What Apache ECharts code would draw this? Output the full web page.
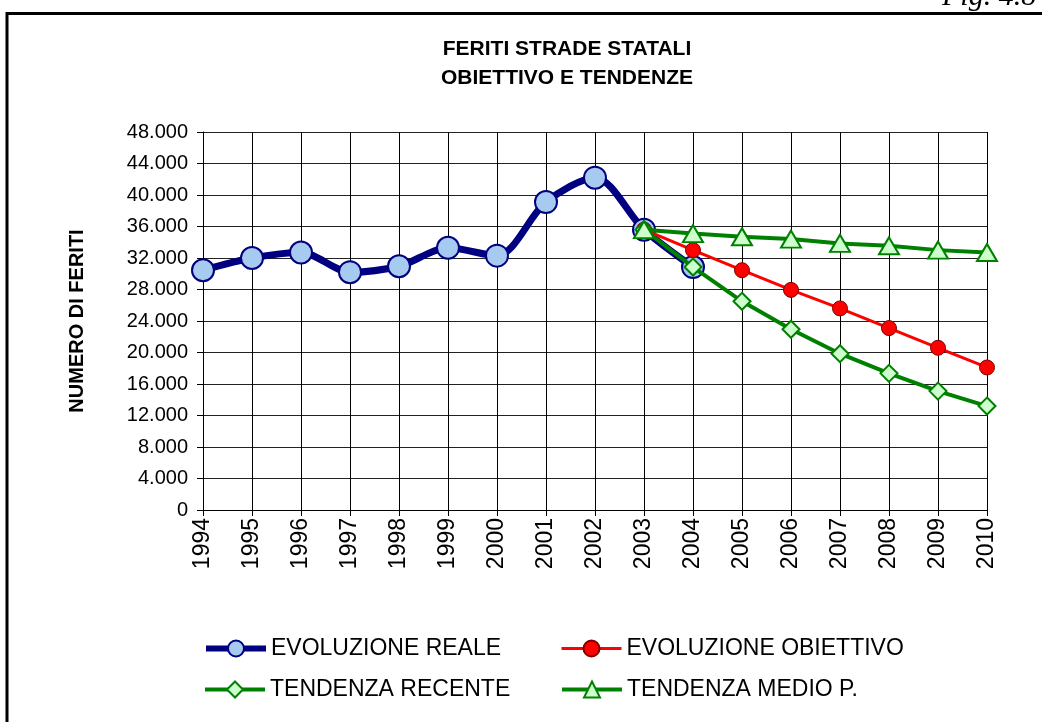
<!DOCTYPE html>
<html><head><meta charset="utf-8">
<script src="https://cdn.jsdelivr.net/npm/echarts@6/dist/echarts.min.js"></script>
<style>html,body{margin:0;padding:0;background:#fff}#c{width:1042px;height:722px}</style>
</head><body><div id="c"></div>
<script>
const years = ['1994','1995','1996','1997','1998','1999','2000','2001','2002','2003','2004','2005','2006','2007','2008','2009','2010'];
const evoluzioneReale = [30450,32000,32700,30200,30950,33300,32300,39100,42200,35600,30850,null,null,null,null,null,null];
const evoluzioneObiettivo = [null,null,null,null,null,null,null,null,null,35600,33000,30450,27950,25600,23100,20600,18100];
const tendenzaRecente = [null,null,null,null,null,null,null,null,null,35600,30850,26500,22950,19850,17350,15100,13200];
const tendenzaMedio = [null,null,null,null,null,null,null,null,null,35600,35100,34700,34400,33850,33550,33000,32700];
const seriesNames = ['EVOLUZIONE REALE','EVOLUZIONE OBIETTIVO','TENDENZA RECENTE','TENDENZA MEDIO P.'];
const yMax = 48000, yStep = 4000;

const FONT = '"Liberation Sans", Arial, sans-serif';
const fmt = v => String(v).replace(/\B(?=(\d{3})+(?!\d))/g, '.');
const chart = echarts.init(document.getElementById('c'), null, {renderer:'canvas'});
const legendBase = {
  itemWidth: 60, itemHeight: 20, itemGap: 5,
  textStyle: {fontFamily: FONT, fontSize: 23, color: '#000'},
  selectedMode: false
};
chart.setOption({
  backgroundColor: '#fff',
  animation: false,
  title: {
    text: 'FERITI STRADE STATALI\nOBIETTIVO E TENDENZE',
    left: 562, top: 30, textAlign: 'center',
    textStyle: {fontFamily: FONT, fontSize: 21, fontWeight: 'bold', color: '#000', lineHeight: 29}
  },
  graphic: [
    {type:'rect', shape:{x:7, y:13.5, width:1200, height:900}, style:{fill:'none', stroke:'#000', lineWidth:3}, silent:true},
    {type:'text', x:942, y:-3, style:{text:'Fig. 4.8', font:'italic 30px "Liberation Serif", serif', fill:'#000', verticalAlign:'middle'}, silent:true}
  ],
  legend: [
    Object.assign({}, legendBase, {data:[seriesNames[0]], left:198, top:632, lineStyle:{width:6}}),
    Object.assign({}, legendBase, {data:[seriesNames[1]], left:555, top:632, lineStyle:{width:3}}),
    Object.assign({}, legendBase, {data:[seriesNames[2]], left:198, top:673, lineStyle:{width:4}}),
    Object.assign({}, legendBase, {data:[seriesNames[3]], left:555, top:673, lineStyle:{width:4}})
  ],
  grid: {left:203, right:55, top:132, bottom:212, containLabel:false},
  xAxis: {
    type:'category', data: years, boundaryGap:false,
    axisLine:{lineStyle:{color:'#000', width:1}},
    axisTick:{show:true, length:6, alignWithLabel:true, lineStyle:{color:'#000'}},
    axisLabel:{rotate:90, margin:8, fontFamily:FONT, fontSize:23, color:'#000', interval:0},
    splitLine:{show:true, lineStyle:{color:'#000', width:1}}
  },
  yAxis: {
    type:'value', min:0, max:yMax, interval:yStep,
    name:'NUMERO DI FERITI', nameLocation:'middle', nameGap:116,
    nameTextStyle:{fontFamily:FONT, fontSize:20, fontWeight:'bold', color:'#000'},
    axisLine:{show:true, lineStyle:{color:'#000', width:1}},
    axisTick:{show:true, length:6, lineStyle:{color:'#000'}},
    axisLabel:{margin:15, fontFamily:FONT, fontSize:20, color:'#000', formatter: fmt},
    splitLine:{show:true, lineStyle:{color:'#222', width:1}}
  },
  series: [
    {name:seriesNames[0], type:'line', data:evoluzioneReale, smooth:0.3, z:2,
     lineStyle:{color:'#000080', width:7}, itemStyle:{color:'#a6caf0', borderColor:'#000080', borderWidth:2},
     symbol:'circle', symbolSize:22, showAllSymbol:true, connectNulls:false},
    {name:seriesNames[1], type:'line', data:evoluzioneObiettivo, z:3,
     lineStyle:{color:'#ff0000', width:3}, itemStyle:{color:'#ff0000', borderColor:'#800000', borderWidth:1},
     symbol:'circle', symbolSize:15, showAllSymbol:true},
    {name:seriesNames[2], type:'line', data:tendenzaRecente, z:4,
     lineStyle:{color:'#008000', width:4}, itemStyle:{color:'#ccffcc', borderColor:'#008000', borderWidth:2},
     symbol:'diamond', symbolSize:17, showAllSymbol:true},
    {name:seriesNames[3], type:'line', data:tendenzaMedio, z:5,
     lineStyle:{color:'#008000', width:4}, itemStyle:{color:'#ccffcc', borderColor:'#008000', borderWidth:2},
     symbol:'triangle', symbolSize:[20,17], showAllSymbol:true}
  ]
});
</script></body></html>
